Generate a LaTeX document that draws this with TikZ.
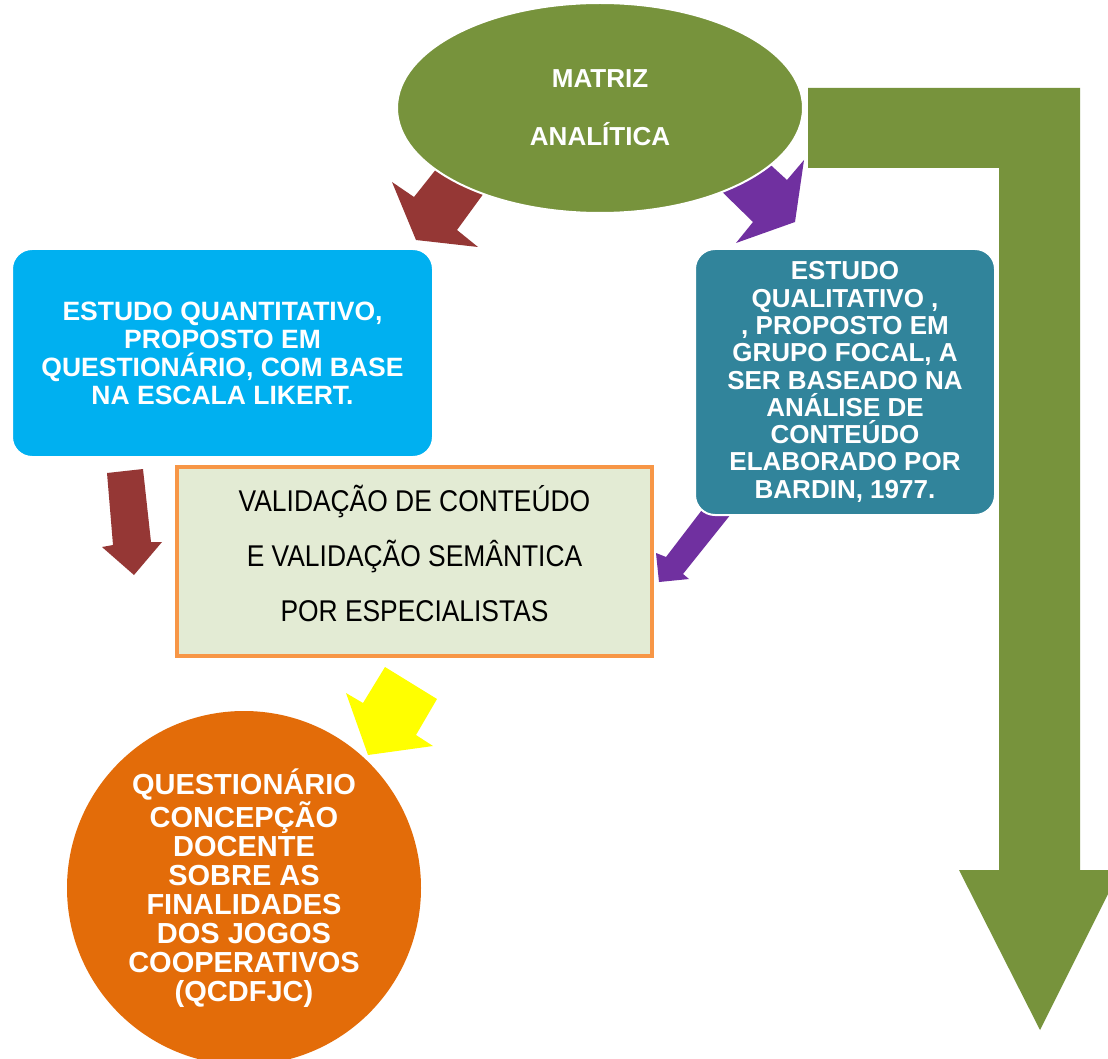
\documentclass[tikz,border=0pt]{standalone}
\usepackage{fontspec}
\setmainfont{Liberation Sans}
\newfontfamily\narrowfont[FakeStretch=0.88]{Liberation Sans}
\usetikzlibrary{shapes.geometric}

% Colours
\definecolor{matrizGreen}{HTML}{77933C}
\definecolor{arrowRed}{HTML}{953735}
\definecolor{arrowPurple}{HTML}{7030A0}
\definecolor{arrowYellow}{HTML}{FFFF00}
\definecolor{quantiBlue}{HTML}{00B0F0}
\definecolor{qualiTeal}{HTML}{31849B}
\definecolor{valFill}{HTML}{E3EBD4}
\definecolor{valOrange}{HTML}{F79646}
\definecolor{questOrange}{HTML}{E36C09}

\tikzset{
  whitetext/.style={text=white, align=center, inner sep=0pt},
  roundbox/.style={whitetext, rectangle, rounded corners=20pt, draw=white, line width=2pt,
    font=\bfseries\fontsize{26.5}{28}\selectfont},
}

\begin{document}
\begin{tikzpicture}[x=1pt, y=-1pt]

% Canvas
\clip (0,0) rectangle (1108,1059);
\fill[white] (0,0) rectangle (1108,1059);

% Bent arrow on the right
\fill[matrizGreen] (808,88) -- (1080,88) -- (1080,870) -- (1120,870) -- (1040,1030)
    -- (959,870) -- (999,870) -- (999,168) -- (808,168) -- cycle;

% Block arrows (drawn before the shapes that cover their tails)
\fill[arrowRed] (445,158) -- (414,197) -- (392,182) -- (416,240) -- (478,247)
    -- (457,230) -- (492,182) -- cycle;
\fill[arrowPurple] (713,183) -- (753,222) -- (736,243) -- (795,222) -- (804,160)
    -- (787,180) -- (763,158) -- cycle;
\fill[arrowRed] (107,473) -- (143,469) -- (151,542) -- (162,542) -- (134,575)
    -- (102,547) -- (113,545) -- cycle;
\fill[arrowPurple] (705,506) -- (731,514) -- (683,574) -- (689,579) -- (659,582)
    -- (656,553) -- (666,557) -- cycle;
\fill[arrowYellow] (385,667) -- (437,699) -- (416,735) -- (433,746) -- (368,755)
    -- (346,693) -- (363,703) -- cycle;

% Shapes
\node[ellipse, whitetext, fill=matrizGreen, draw=white, line width=2pt,
      minimum width=406pt, minimum height=210pt,
      font=\bfseries\fontsize{26}{58}\selectfont] (matriz) at (600,108)
      {MATRIZ\\ANALÍTICA};

\node[roundbox, fill=quantiBlue, minimum width=421pt, minimum height=208pt]
      (quanti) at (222.5,353)
      {ESTUDO QUANTITATIVO,\\PROPOSTO EM\\QUESTIONÁRIO, COM BASE\\NA ESCALA LIKERT.};

\node[roundbox, fill=qualiTeal, minimum width=300pt, minimum height=266pt,
      font=\bfseries\fontsize{26}{27.3}\selectfont]
      (quali) at (845,382)
      {ESTUDO\\QUALITATIVO ,\\, PROPOSTO EM\\GRUPO FOCAL, A\\SER BASEADO NA\\ANÁLISE DE\\CONTEÚDO\\ELABORADO POR\\BARDIN, 1977.};

\node[rectangle, fill=valFill, draw=valOrange, line width=4pt,
      minimum width=475pt, minimum height=189pt, inner sep=0pt]
      (valida) at (414.5,561.5) {};
\node[align=center, inner sep=0pt, font=\narrowfont\fontsize{30}{55}\selectfont]
      (validaText) at (414.5,553)
      {VALIDAÇÃO DE CONTEÚDO\\E VALIDAÇÃO SEMÂNTICA\\POR ESPECIALISTAS};

\node[circle, whitetext, fill=questOrange, minimum size=354pt,
      font=\bfseries\fontsize{29}{29}\selectfont]
      (quest) at (244,888)
      {QUESTIONÁRIO\\CONCEPÇÃO\\DOCENTE\\SOBRE AS\\FINALIDADES\\DOS JOGOS\\COOPERATIVOS\\(QCDFJC)};

\end{tikzpicture}
\end{document}
